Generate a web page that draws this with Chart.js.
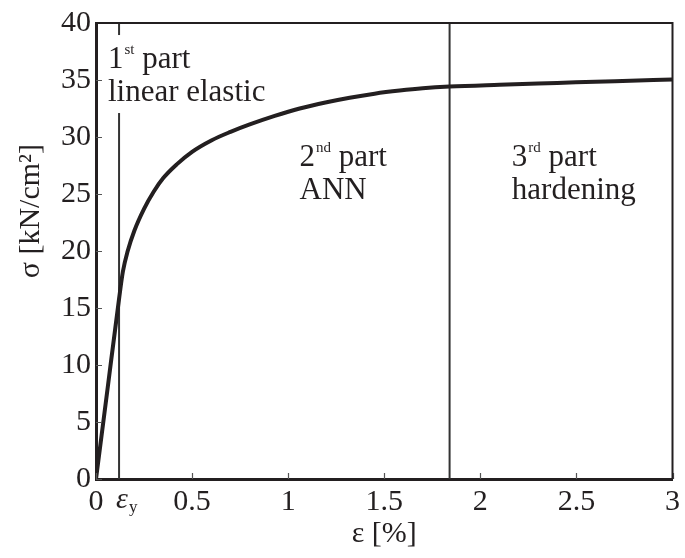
<!DOCTYPE html>
<html lang="en">

<head>
    <meta charset="UTF-8">
    <title>Stress-strain curve</title>
    <script src="https://cdn.jsdelivr.net/npm/chart.js"></script>
    <style>
        body {
            margin: 0;
            background: #fff;
        }

        .chart-box {
            position: relative;
            width: 685px;
            height: 558px;
        }
    </style>
</head>

<body>
    <div class="chart-box">
        <canvas id="stressChart"></canvas>
    </div>

    <script>
        // strain [%] and stress [kN/cm2]
        const strain = [0, 0.06, 0.12, 0.14, 0.165, 0.2, 0.25, 0.3, 0.35, 0.42, 0.5, 0.6, 0.7, 0.8, 0.93,
            1.06, 1.2, 1.32, 1.45, 1.58, 1.7, 1.84, 2.1, 2.4, 2.7, 3.0];
        const stress = [0, 7.9, 15.8, 18.2, 20.0, 21.8, 23.7, 25.2, 26.4, 27.6, 28.7, 29.7, 30.45, 31.1, 31.85,
            32.5, 33.05, 33.45, 33.8, 34.07, 34.27, 34.42, 34.58, 34.74, 34.9, 35.05];

        // strain where the parts of the model change
        const boundaries = [0.12, 1.84];

        const xTicks = [0, 0.5, 1, 1.5, 2, 2.5, 3];
        const yTicks = [0, 5, 10, 15, 20, 25, 30, 35, 40];

        // region labels: [x, y, number, suffix, second line]
        const partLabels = [
            [0.062, 36.05, '1', 'st', 'linear elastic'],
            [1.059, 27.5, '2', 'nd', 'ANN'],
            [2.164, 27.5, '3', 'rd', 'hardening']
        ];

        const serif = '"Liberation Serif", "Times New Roman", serif';
        const ink = '#231f20';
        const textSize = 31;

        const curve = strain.map((x, i) => ({ x: x, y: stress[i] }));
        const boundaryLines = boundaries.map(b => ({
            data: [{ x: b, y: 0 }, { x: b, y: 40 }],
            borderColor: '#333',
            borderWidth: 2,
            pointRadius: 0,
            tension: 0,
            order: 2
        }));

        const frameAndText = {
            id: 'frameAndText',
            afterDatasetsDraw(chart) {
                const ctx = chart.ctx;
                const xs = chart.scales.x;
                const ys = chart.scales.y;
                ctx.save();
                ctx.fillStyle = ink;
                ctx.textBaseline = 'alphabetic';
                partLabels.forEach(([xv, yv, num, sup, line2], i) => {
                    const px = xs.getPixelForValue(xv);
                    const py = ys.getPixelForValue(yv);
                    ctx.font = textSize + 'px ' + serif;
                    const numW = ctx.measureText(num).width;
                    const l2W = ctx.measureText(line2).width;
                    ctx.font = '15px ' + serif;
                    const supW = ctx.measureText(sup).width;
                    if (i === 0) {
                        // white patch so the yield line stops under the text
                        ctx.fillStyle = '#fff';
                        ctx.fillRect(px - 6, py - 33, l2W + 10, 78);
                        ctx.fillStyle = ink;
                    }
                    ctx.font = textSize + 'px ' + serif;
                    ctx.fillText(num, px, py);
                    ctx.font = '15px ' + serif;
                    ctx.fillText(sup, px + numW + 1, py - 14);
                    ctx.font = textSize + 'px ' + serif;
                    ctx.fillText(' part', px + numW + supW + 1, py);
                    ctx.fillText(line2, px, py + 33);
                });

                // yield strain label under the axis
                const ey = xs.getPixelForValue(boundaries[0]);
                ctx.font = 'italic 30px ' + serif;
                ctx.fillText('\u03b5', ey - 3, ys.bottom + 29);
                const ew = ctx.measureText('\u03b5').width;
                ctx.font = '17px ' + serif;
                ctx.fillText('y', ey - 3 + ew + 1, ys.bottom + 33);
                ctx.restore();
            },
            afterDraw(chart) {
                const ctx = chart.ctx;
                const { left, right, top, bottom } = chart.chartArea;
                const xs = chart.scales.x;
                const ys = chart.scales.y;
                ctx.save();
                // inward tick marks
                ctx.strokeStyle = '#555';
                ctx.lineWidth = 1.2;
                ctx.beginPath();
                xTicks.forEach(v => {
                    const px = Math.round(xs.getPixelForValue(v)) + 0.5;
                    ctx.moveTo(px, bottom);
                    ctx.lineTo(px, bottom - 6);
                });
                yTicks.forEach(v => {
                    const py = Math.round(ys.getPixelForValue(v)) + 0.5;
                    ctx.moveTo(left, py);
                    ctx.lineTo(left + 6, py);
                });
                ctx.stroke();
                // top and right frame
                ctx.strokeStyle = ink;
                ctx.lineWidth = 2;
                ctx.beginPath();
                ctx.moveTo(left, top);
                ctx.lineTo(right, top);
                ctx.lineTo(right, bottom);
                ctx.stroke();

                // y axis title, sitting a little above the middle of the axis
                ctx.translate(31, ys.getPixelForValue(23.5));
                ctx.rotate(-Math.PI / 2);
                ctx.fillStyle = ink;
                ctx.font = '30px ' + serif;
                ctx.textAlign = 'center';
                ctx.textBaseline = 'middle';
                ctx.fillText('\u03c3 [kN/cm\u00b2]', 0, 0);
                ctx.restore();
            }
        };

        new Chart(document.getElementById('stressChart'), {
            type: 'line',
            data: {
                datasets: [{
                    data: curve,
                    borderColor: ink,
                    borderWidth: 4,
                    pointRadius: 0,
                    cubicInterpolationMode: 'monotone',
                    order: 1
                }].concat(boundaryLines)
            },
            options: {
                responsive: true,
                maintainAspectRatio: false,
                animation: false,
                events: [],
                layout: { autoPadding: false, padding: { left: 0, right: 11, top: 23, bottom: 0 } },
                plugins: {
                    legend: { display: false },
                    tooltip: { enabled: false }
                },
                scales: {
                    x: {
                        type: 'linear',
                        min: 0,
                        max: 3,
                        afterBuildTicks: s => { s.ticks = xTicks.map(v => ({ value: v })); },
                        afterFit: s => { s.height = 79; },
                        grid: { drawOnChartArea: false, drawTicks: false },
                        border: { display: true, width: 3, color: ink },
                        ticks: {
                            color: ink,
                            padding: 5,
                            maxRotation: 0,
                            callback: v => String(v),
                            font: { family: serif, size: 30 }
                        },
                        title: {
                            display: true,
                            text: '\u03b5 [%]',
                            color: ink,
                            padding: { top: 0, bottom: 6 },
                            font: { family: serif, size: 30 }
                        }
                    },
                    y: {
                        type: 'linear',
                        min: 0,
                        max: 40,
                        afterBuildTicks: s => { s.ticks = yTicks.map(v => ({ value: v })); },
                        afterFit: s => { s.width = 96; },
                        grid: { drawOnChartArea: false, drawTicks: false },
                        border: { display: true, width: 3, color: ink },
                        ticks: {
                            color: ink,
                            padding: 5,
                            callback: v => String(v),
                            font: { family: serif, size: 30 }
                        }
                    }
                }
            },
            plugins: [frameAndText]
        });
    </script>
</body>

</html>
